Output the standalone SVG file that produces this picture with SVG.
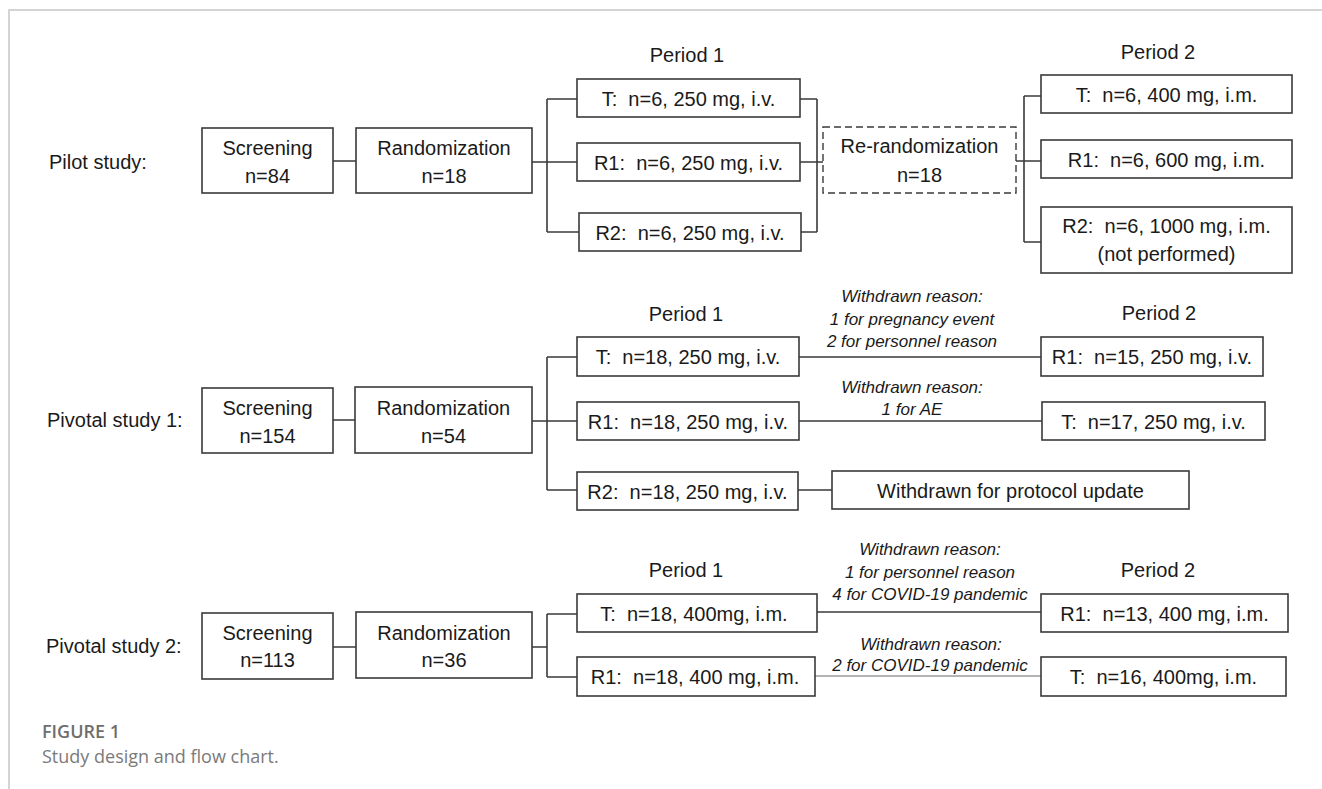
<svg xmlns="http://www.w3.org/2000/svg" width="1322" height="789" viewBox="0 0 1322 789">
<style>
text{font-family:"Liberation Sans",Arial,sans-serif;font-size:20px;fill:#1a1a1a;white-space:pre}
.c{text-anchor:middle}
.it{font-style:italic;font-size:17px;text-anchor:middle}
.box{fill:#fff;stroke:#3a3a3a;stroke-width:1.6}
.dash{fill:#fff;stroke:#3a3a3a;stroke-width:1.4;stroke-dasharray:7 4}
.ln{fill:none;stroke:#3a3a3a;stroke-width:1.6}
.ln2{fill:none;stroke:#6a6a6a;stroke-width:1.2}
.frame{fill:none;stroke:#d4d4d4;stroke-width:2}
.fig{font-family:"Open Sans","Noto Sans",sans-serif;font-size:18px;font-weight:600;fill:#6e6e6e}
.cap{font-family:"Open Sans","Noto Sans",sans-serif;font-size:18px;fill:#7a7a7a}
</style>
<rect width="1322" height="789" fill="#fff"/>
<path class="frame" d="M9 789V10H1322"/>

<g id="connectors">
<path class="ln" d="M333 161H356M532 162H547M547 99V232M547 99H577M547 162H577M547 232H579"/>
<path class="ln" d="M800 99H817M800 162H823M801 232H817M817 99V232"/>
<path class="ln" d="M1016 161H1041M1024 96V242M1024 96H1041M1024 242H1041"/>
<path class="ln" d="M333 420H355M532 421H547M547 357V490M547 357H577M547 421H577M547 490H577"/>
<path class="ln" d="M799 357H1041M799 421H1042M798 490H832"/>
<path class="ln" d="M333 647H356M532 647H547M547 614V677M547 614H577M547 677H577"/>
<path class="ln" d="M817 612H1041"/>
<path class="ln2" d="M815 676H1041"/>
</g>

<g id="labels">
<text x="49" y="169">Pilot study:</text>
<text x="47" y="427">Pivotal study 1:</text>
<text x="46" y="653">Pivotal study 2:</text>
<text class="c" x="687" y="62">Period 1</text>
<text class="c" x="1158" y="59">Period 2</text>
<text class="c" x="686" y="321">Period 1</text>
<text class="c" x="1159" y="320">Period 2</text>
<text class="c" x="686" y="577">Period 1</text>
<text class="c" x="1158" y="577">Period 2</text>
</g>

<g id="pilot-screening"><rect class="box" x="202" y="128" width="131" height="65"/><text class="c" x="267.5" y="155">Screening</text><text class="c" x="267.5" y="183">n=84</text></g>
<g id="pilot-randomization"><rect class="box" x="356" y="128" width="176" height="65"/><text class="c" x="444" y="155">Randomization</text><text class="c" x="444" y="183">n=18</text></g>
<g id="pilot-p1-T"><rect class="box" x="577" y="79" width="223" height="38"/><text class="c" x="688.5" y="105.5">T:  n=6, 250 mg, i.v.</text></g>
<g id="pilot-p1-R1"><rect class="box" x="577" y="143" width="223" height="38"/><text class="c" x="688.5" y="169.5">R1:  n=6, 250 mg, i.v.</text></g>
<g id="pilot-p1-R2"><rect class="box" x="579" y="213" width="222" height="38"/><text class="c" x="690" y="239.5">R2:  n=6, 250 mg, i.v.</text></g>
<g id="pilot-rerandomization"><rect class="dash" x="823" y="127" width="193" height="66"/><text class="c" x="919.5" y="153">Re-randomization</text><text class="c" x="919.5" y="182">n=18</text></g>
<g id="pilot-p2-T"><rect class="box" x="1041" y="75" width="251" height="38"/><text class="c" x="1166.5" y="101.5">T:  n=6, 400 mg, i.m.</text></g>
<g id="pilot-p2-R1"><rect class="box" x="1041" y="140" width="251" height="38"/><text class="c" x="1166.5" y="166.5">R1:  n=6, 600 mg, i.m.</text></g>
<g id="pilot-p2-R2"><rect class="box" x="1041" y="207" width="251" height="66"/><text class="c" x="1166.5" y="233">R2:  n=6, 1000 mg, i.m.</text><text class="c" x="1166.5" y="261">(not performed)</text></g>

<g id="piv1-screening"><rect class="box" x="202" y="388" width="131" height="65"/><text class="c" x="267.5" y="415">Screening</text><text class="c" x="267.5" y="443">n=154</text></g>
<g id="piv1-randomization"><rect class="box" x="355" y="387" width="177" height="66"/><text class="c" x="443.5" y="415">Randomization</text><text class="c" x="443.5" y="443">n=54</text></g>
<g id="piv1-p1-T"><rect class="box" x="577" y="337" width="222" height="39"/><text class="c" x="688" y="364">T:  n=18, 250 mg, i.v.</text></g>
<g id="piv1-p1-R1"><rect class="box" x="577" y="402" width="222" height="38"/><text class="c" x="688" y="428.5">R1:  n=18, 250 mg, i.v.</text></g>
<g id="piv1-p1-R2"><rect class="box" x="577" y="472" width="221" height="38"/><text class="c" x="687.5" y="498.5">R2:  n=18, 250 mg, i.v.</text></g>
<g id="piv1-withdrawn"><rect class="box" x="832" y="471" width="357" height="38"/><text class="c" x="1010.5" y="497.5">Withdrawn for protocol update</text></g>
<g id="piv1-p2-R1"><rect class="box" x="1041" y="337" width="222" height="39"/><text class="c" x="1152" y="364">R1:  n=15, 250 mg, i.v.</text></g>
<g id="piv1-p2-T"><rect class="box" x="1042" y="402" width="223" height="38"/><text class="c" x="1153.5" y="428.5">T:  n=17, 250 mg, i.v.</text></g>
<g id="piv1-notes">
<text class="it" x="912" y="302">Withdrawn reason:</text>
<text class="it" x="912" y="325">1 for pregnancy event</text>
<text class="it" x="912" y="347">2 for personnel reason</text>
<text class="it" x="912" y="393">Withdrawn reason:</text>
<text class="it" x="912" y="415">1 for AE</text>
</g>

<g id="piv2-screening"><rect class="box" x="202" y="613" width="131" height="66"/><text class="c" x="267.5" y="640">Screening</text><text class="c" x="267.5" y="667">n=113</text></g>
<g id="piv2-randomization"><rect class="box" x="356" y="612" width="176" height="66"/><text class="c" x="444" y="640">Randomization</text><text class="c" x="444" y="667">n=36</text></g>
<g id="piv2-p1-T"><rect class="box" x="577" y="594" width="240" height="38"/><text class="c" x="694" y="620.5">T:  n=18, 400mg, i.m.</text></g>
<g id="piv2-p1-R1"><rect class="box" x="577" y="657" width="238" height="39"/><text class="c" x="695" y="684">R1:  n=18, 400 mg, i.m.</text></g>
<g id="piv2-p2-R1"><rect class="box" x="1041" y="594" width="247" height="38"/><text class="c" x="1164.5" y="620.5">R1:  n=13, 400 mg, i.m.</text></g>
<g id="piv2-p2-T"><rect class="box" x="1041" y="657" width="245" height="39"/><text class="c" x="1163.5" y="684">T:  n=16, 400mg, i.m.</text></g>
<g id="piv2-notes">
<text class="it" x="930" y="555">Withdrawn reason:</text>
<text class="it" x="930" y="578">1 for personnel reason</text>
<text class="it" x="930" y="600">4 for COVID-19 pandemic</text>
<text class="it" x="931" y="650">Withdrawn reason:</text>
<text class="it" x="930" y="671">2 for COVID-19 pandemic</text>
</g>

<g id="caption">
<text class="fig" x="42" y="738">FIGURE 1</text>
<text class="cap" x="42" y="763">Study design and flow chart.</text>
</g>
</svg>
